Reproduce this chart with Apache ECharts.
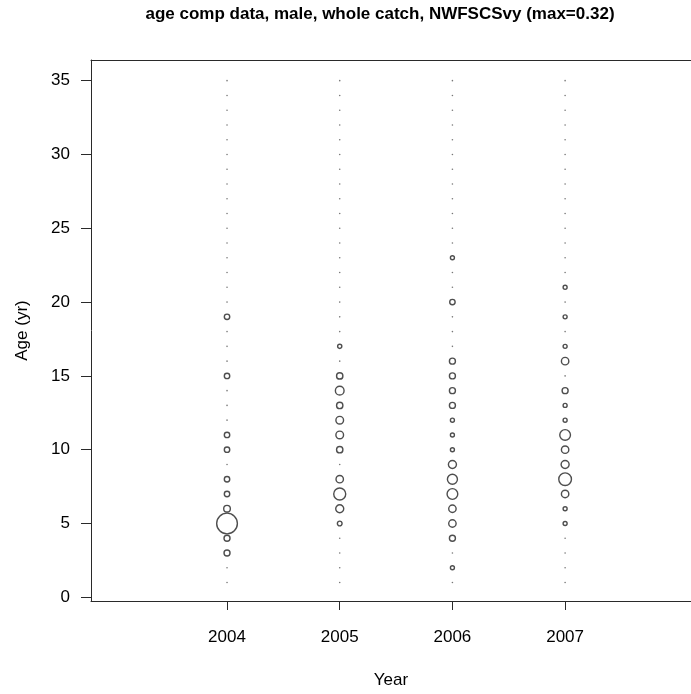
<!DOCTYPE html>
<html>
<head>
<meta charset="utf-8">
<script src="https://cdn.jsdelivr.net/npm/echarts@6/dist/echarts.min.js"></script>
<style>
html,body{margin:0;padding:0;background:#fff;}
#chart{width:691px;height:694px;}
</style>
</head>
<body>
<div id="chart"></div>
<script>
const titleText = "age comp data, male, whole catch, NWFSCSvy (max=0.32)";
const years = [2004, 2005, 2006, 2007];
const ages = [1,2,3,4,5,6,7,8,9,10,11,12,13,14,15,16,17,18,19,20,21,22,23,24,25,26,27,28,29,30,31,32,33,34,35];
const yTicks = [0, 5, 10, 15, 20, 25, 30, 35];
// proportions by age 1..35
const prop2004 = [0,0,0.027,0.027,0.32,0.033,0.022,0.022,0,0.022,0.022,0,0,0,0.022,0,0,0,0.022,0,0,0,0,0,0,0,0,0,0,0,0,0,0,0,0];
const prop2005 = [0,0,0,0,0.0165,0.048,0.1075,0.041,0,0.030,0.044,0.044,0.030,0.0565,0.030,0,0.013,0,0,0,0,0,0,0,0,0,0,0,0,0,0,0,0,0,0];
const prop2006 = [0,0.012,0,0.027,0.041,0.041,0.0855,0.075,0.048,0.012,0.012,0.012,0.027,0.027,0.027,0.027,0,0,0,0.022,0,0,0.012,0,0,0,0,0,0,0,0,0,0,0,0];
const prop2007 = [0,0,0,0,0.012,0.012,0.041,0.12,0.048,0.041,0.0855,0.012,0.012,0.027,0,0.041,0.012,0,0.012,0,0.012,0,0,0,0,0,0,0,0,0,0,0,0,0,0];
const maxProp = 0.32;

const props = [prop2004, prop2005, prop2006, prop2007];
const bubbles = [];
const zeros = [];
years.forEach((yr, i) => {
  ages.forEach((a, j) => {
    const v = props[i][j];
    if (v > 0) bubbles.push([yr, a, v]);
    else zeros.push([yr, a]);
  });
});

const FONT = '"Liberation Sans", Arial, sans-serif';
const LINE = '#2a2a2a';
const chart = echarts.init(document.getElementById('chart'), null, {renderer: 'canvas'});
chart.setOption({
  animation: false,
  backgroundColor: '#fff',
  graphic: [{
    type: 'text', x: 380, y: 14,
    style: {text: titleText, align: 'center', verticalAlign: 'middle',
      font: 'bold 17px ' + FONT, fill: '#000'}
  }],
  grid: {left: 91, top: 60, right: 0, bottom: 91, show: false},
  xAxis: [{
    type: 'value', min: 2002.793, max: 2008.117,
    name: 'Year', nameLocation: 'middle', nameGap: 71,
    nameTextStyle: {fontFamily: FONT, fontSize: 17, color: '#000'},
    axisLine: {show: true, onZero: false, lineStyle: {color: LINE, width: 1}},
    axisTick: {show: true, length: 9, customValues: years, lineStyle: {color: LINE}},
    axisLabel: {customValues: years, margin: 28, fontFamily: FONT, fontSize: 17, color: '#000',
      formatter: v => String(v)},
    splitLine: {show: false}
  }, {
    type: 'value', position: 'top', min: 2002.793, max: 2008.117,
    axisLine: {show: true, onZero: false, lineStyle: {color: LINE, width: 1}},
    axisTick: {show: false}, axisLabel: {show: false}, splitLine: {show: false}
  }],
  yAxis: {
    type: 'value', min: -0.25, max: 36.4,
    name: 'Age (yr)', nameLocation: 'middle', nameGap: 60,
    nameTextStyle: {fontFamily: FONT, fontSize: 17, color: '#000'},
    axisLine: {show: true, onZero: false, lineStyle: {color: LINE, width: 1}},
    axisTick: {show: true, length: 10, customValues: yTicks, lineStyle: {color: LINE}},
    axisLabel: {customValues: yTicks, margin: 21, fontFamily: FONT, fontSize: 17, color: '#000'},
    splitLine: {show: false}
  },
  series: [
    {
      type: 'scatter', data: zeros, symbol: 'circle', symbolSize: 1.6,
      itemStyle: {color: '#555'}, silent: true
    },
    {
      type: 'scatter', data: bubbles, symbol: 'circle',
      symbolSize: d => 20.7 * Math.sqrt(d[2] / maxProp),
      itemStyle: {color: 'rgba(255,255,255,0)', borderColor: '#222', borderWidth: 1.4},
      silent: true
    }
  ]
});
</script>
</body>
</html>
